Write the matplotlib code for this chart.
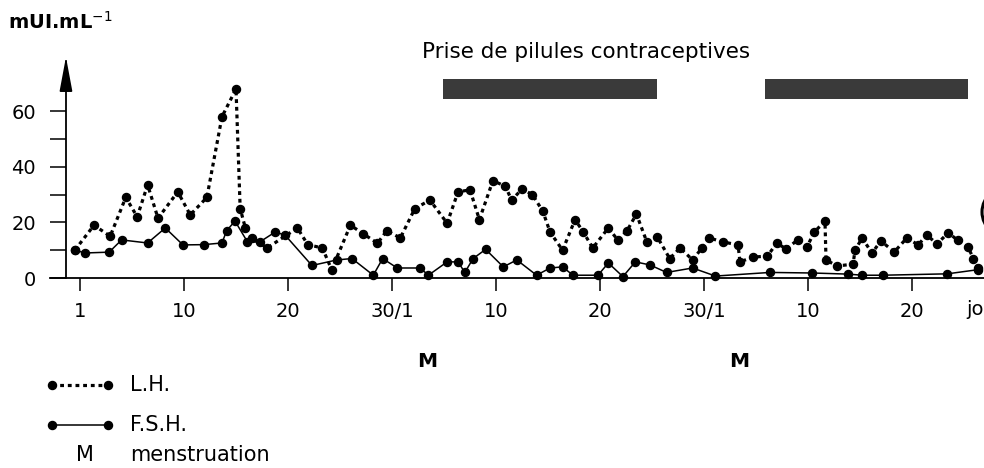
import matplotlib
matplotlib.use('Agg')
import matplotlib.pyplot as plt
from matplotlib.patches import Rectangle, Ellipse

# ---- data ----
lh_day = [-0.5, 1.35, 2.9, 4.4, 5.5, 6.5, 7.5, 9.4, 10.6, 12.2, 13.65, 15.0, 15.4, 15.9,
          16.5, 18.0, 20.9, 21.9, 23.3, 24.2, 26.0, 27.2, 28.6, 29.5, 30.8, 32.2, 33.65,
          35.3, 36.35, 37.5, 38.4, 39.7, 40.9, 41.5, 42.5, 43.5, 44.5, 45.2, 46.4, 47.6,
          48.4, 49.3, 50.8, 51.7, 52.6, 53.5, 54.5, 55.5, 56.7, 57.7, 58.9, 59.8, 60.5,
          61.8, 63.27, 63.46, 64.7, 66.1, 67.0, 67.9, 69.0, 69.9, 70.6, 71.63, 71.73,
          72.8, 74.33, 74.52, 75.2, 76.15, 77.0, 78.3, 79.5, 80.6, 81.4, 82.4, 83.5,
          84.4, 85.4, 85.9, 86.35]
lh_val = [10, 19, 15, 29, 22, 33.5, 21.5, 31, 22.7, 29, 58, 68, 25, 18,
          14.4, 10.8, 18, 12, 10.8, 3, 19, 16, 12.5, 17, 14.4, 25, 28,
          19.7, 31, 31.7, 21, 35, 33, 28, 32, 30, 24, 16.5, 10, 21,
          16.5, 10.8, 18, 13.7, 17, 23, 13, 14.8, 7, 10.8, 6.5, 10.8, 14.4,
          13, 11.9, 5.8, 7.5, 7.9, 12.6, 10.4, 13.7, 11.2, 16.5, 20.5, 6.5,
          4.3, 5, 10, 14.4, 9, 13.3, 9.4, 14.4, 11.9, 15.5, 12.3, 16.3,
          13.5, 11, 7, 3.6]

fsh_day = [-0.5, 0.5, 2.8, 4.0, 6.5, 8.2, 9.9, 11.9, 13.65, 14.1, 14.9, 16.1, 17.3,
           18.75, 19.7, 22.3, 24.7, 26.15, 28.2, 29.1, 30.5, 32.7, 33.5, 35.3, 36.35,
           37.0, 37.8, 39.0, 40.7, 42.0, 43.9, 45.2, 46.4, 47.4, 49.8, 50.8, 52.2,
           53.4, 54.8, 56.4, 58.9, 61.1, 66.35, 70.4, 73.85, 75.2, 77.2, 83.4, 86.35]
fsh_val = [10, 9, 9.3, 13.7, 12.6, 18, 11.9, 12, 12.6, 17, 20.5, 13, 13,
           16.5, 15.5, 4.5, 6.5, 7, 1, 7, 3.6, 3.6, 1, 5.8, 5.8,
           2, 7, 10.3, 4, 6.5, 1, 3.6, 4, 1, 1, 5.4, 0.5,
           5.8, 4.7, 2, 3.6, 0.7, 2, 1.8, 1.4, 1, 1, 1.5, 3]

x_ticks = [0, 10, 20, 30, 40, 50, 60, 70, 80]
x_tick_labels = ['1', '10', '20', '30/1', '10', '20', '30/1', '10', '20']
y_major = [0, 20, 40, 60]
y_minor = [10, 30, 50]
pill_periods = [(34.9, 55.5), (65.9, 85.4)]
menses_day = [33.4, 63.4]

plt.rcParams['font.family'] = ['DejaVu Sans']

fig = plt.figure(figsize=(9.84, 4.68), dpi=100)
ax = fig.add_axes([50 / 984, 190 / 468, 934 / 984, 222.4 / 468])
ax.set_xlim(-2.885, 86.92)
ax.set_ylim(0, 80)

for s in ('top', 'right'):
    ax.spines[s].set_visible(False)
ax.spines['left'].set_position(('data', -1.35))
ax.spines['left'].set_bounds(0, 78)
ax.spines['left'].set_linewidth(1.3)
ax.spines['bottom'].set_linewidth(1.3)

ax.annotate('', xy=(-1.35, 80.5), xytext=(-1.35, 70),
            arrowprops=dict(arrowstyle='-|>,head_length=1.5,head_width=0.28',
                            lw=1.3, color='black', mutation_scale=14),
            annotation_clip=False)

ax.set_xticks(x_ticks)
ax.set_xticklabels(x_tick_labels)
ax.set_yticks(y_major)
ax.set_yticks(y_minor, minor=True)
ax.tick_params(axis='x', direction='out', length=9.4, width=1.1, pad=8, labelsize=14)
ax.tick_params(axis='y', which='both', direction='out', length=11.5, width=1.1, pad=10, labelsize=14)

ax.plot(lh_day, lh_val, color='black', ls=(0, (1.2, 1.2)), lw=2.3,
        marker='o', ms=5.8, clip_on=False, zorder=3)
ax.plot(fsh_day, fsh_val, color='black', lw=1.1,
        marker='o', ms=5.8, clip_on=False, zorder=4)

# pill periods
for a, b in pill_periods:
    ax.add_patch(Rectangle((a, 64.4), b - a, 7.2, facecolor='#3a3a3a',
                           edgecolor='none', clip_on=False))
ax.text(48.7, 81.3, 'Prise de pilules contraceptives', ha='center', va='center',
        fontsize=15.5)

# partial circle at the right edge (cut off in the reference)
fig.add_artist(Ellipse((1014 / 984, 1 - 212 / 468), 64 / 984, 56 / 468,
                       transform=fig.transFigure, fill=False, lw=2.2, color='black'))

# unit label
fig.text(8 / 984, 1 - 22 / 468, 'mUI.mL$^{-1}$', ha='left', va='center',
         fontsize=14, fontweight='bold')

# menstruation markers
for d in menses_day:
    ax.text(d, -30, 'M', ha='center', va='center', fontsize=14.5, fontweight='bold',
            clip_on=False)

ax.text(86.92, -11.5, 'jo', ha='right', va='center', fontsize=14, clip_on=False)

# legend
ax.plot([-2.69, 2.69], [-38.5, -38.5], color='black', ls=(0, (1.2, 1.2)), lw=2.3,
        marker='o', ms=5.8, clip_on=False)
ax.plot([-2.69, 2.69], [-52.9, -52.9], color='black', lw=1.1,
        marker='o', ms=5.8, clip_on=False)
ax.text(4.8, -38.5, 'L.H.', ha='left', va='center', fontsize=15, clip_on=False)
ax.text(4.8, -52.9, 'F.S.H.', ha='left', va='center', fontsize=15, clip_on=False)
ax.text(0.5, -63.7, 'M', ha='center', va='center', fontsize=15, clip_on=False)
ax.text(4.8, -63.7, 'menstruation', ha='left', va='center', fontsize=15, clip_on=False)

fig.savefig('out.png', dpi=100)
